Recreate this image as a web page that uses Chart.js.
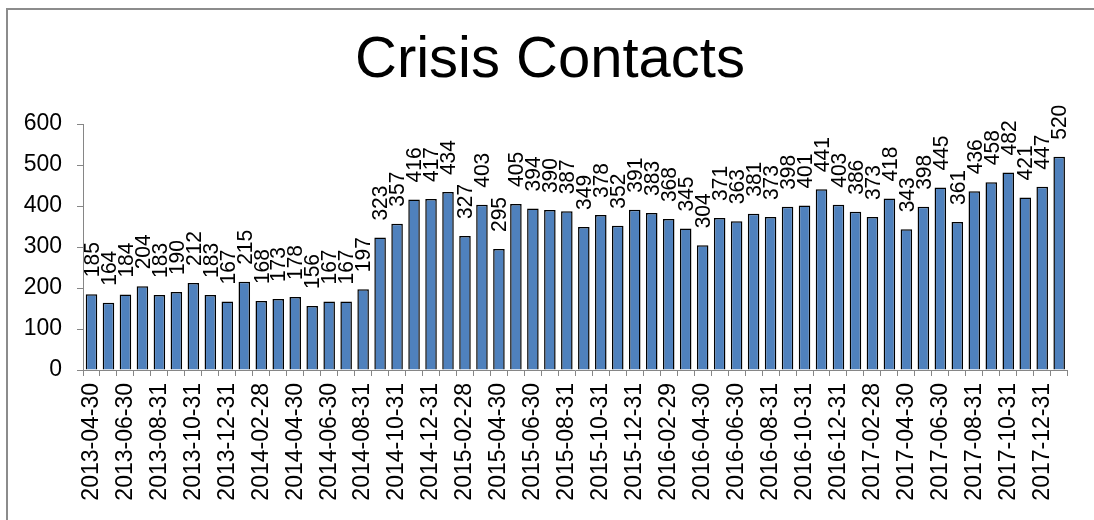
<!DOCTYPE html>
<html>
<head>
<meta charset="utf-8">
<script src="https://cdn.jsdelivr.net/npm/chart.js@4/dist/chart.umd.min.js"></script>
<style>
  html, body { margin: 0; padding: 0; background: #ffffff; }
  #wrap { position: relative; width: 1094px; height: 520px; overflow: hidden; }
  #frame { position: absolute; left: 6px; top: 8px; right: -10px; bottom: -10px;
           border-left: 2px solid #8c8c8c; border-top: 2px solid #8c8c8c; }
  #c { position: absolute; left: 0; top: 0; }
</style>
</head>
<body>
<div id="wrap">
  <div id="frame"></div>
  <canvas id="c" width="1094" height="520"></canvas>
</div>
<script>
// Month-end dates, April 2013 through January 2018
const months = [
  "2013-04-30","2013-05-31","2013-06-30","2013-07-31","2013-08-31","2013-09-30",
  "2013-10-31","2013-11-30","2013-12-31","2014-01-31","2014-02-28","2014-03-31",
  "2014-04-30","2014-05-31","2014-06-30","2014-07-31","2014-08-31","2014-09-30",
  "2014-10-31","2014-11-30","2014-12-31","2015-01-31","2015-02-28","2015-03-31",
  "2015-04-30","2015-05-31","2015-06-30","2015-07-31","2015-08-31","2015-09-30",
  "2015-10-31","2015-11-30","2015-12-31","2016-01-31","2016-02-29","2016-03-31",
  "2016-04-30","2016-05-31","2016-06-30","2016-07-31","2016-08-31","2016-09-30",
  "2016-10-31","2016-11-30","2016-12-31","2017-01-31","2017-02-28","2017-03-31",
  "2017-04-30","2017-05-31","2017-06-30","2017-07-31","2017-08-31","2017-09-30",
  "2017-10-31","2017-11-30","2017-12-31","2018-01-31"
];

// Crisis contacts per month
const contacts = [
  185,164,184,204,183,190,212,183,167,215,168,173,
  178,156,167,167,197,323,357,416,417,434,327,403,
  295,405,394,390,387,349,378,352,391,383,368,345,
  304,371,363,381,373,398,401,441,403,386,373,418,
  343,398,445,361,436,458,482,421,447,520
];

// Value axis ticks
const yTicks = [0, 100, 200, 300, 400, 500, 600];

const chartTitle = 'Crisis Contacts';

const FONT = "'Liberation Sans', Arial, sans-serif";

// Large centred heading above the plot
const headingText = {
  id: 'headingText',
  afterDraw(chart) {
    const ctx = chart.ctx;
    ctx.save();
    ctx.font = "58px " + FONT;
    ctx.fillStyle = "#000000";
    ctx.textAlign = "center";
    ctx.textBaseline = "alphabetic";
    ctx.fillText(chartTitle, 550, 77);
    ctx.restore();
  }
};

// Rotated value labels above each bar
const barValueLabels = {
  id: 'barValueLabels',
  afterDatasetsDraw(chart) {
    const ctx = chart.ctx;
    const meta = chart.getDatasetMeta(0);
    ctx.save();
    ctx.font = "21px " + FONT;
    ctx.fillStyle = "#000000";
    ctx.textAlign = "left";
    ctx.textBaseline = "middle";
    meta.data.forEach((bar, i) => {
      ctx.save();
      ctx.translate(bar.x + 1, bar.y - 17);
      ctx.rotate(-Math.PI / 2);
      ctx.scale(1, 1.08);
      ctx.fillText(String(contacts[i]), 0, 0);
      ctx.restore();
    });
    ctx.restore();
  }
};

new Chart(document.getElementById('c'), {
  type: 'bar',
  data: {
    labels: months,
    datasets: [{
      data: contacts,
      backgroundColor: '#4f81bd',
      borderColor: '#000000',
      borderWidth: 1.5,
      categoryPercentage: 1.0,
      barPercentage: 0.68
    }]
  },
  options: {
    responsive: false,
    animation: false,
    layout: { padding: { left: 0, right: 26, top: 124, bottom: 0 } },
    plugins: {
      legend: { display: false },
      tooltip: { enabled: false },
      title: { display: false }
    },
    scales: {
      x: {
        offset: true,
        border: { display: true, color: '#868686', width: 1 },
        grid: {
          display: true,
          offset: true,
          drawOnChartArea: false,
          drawTicks: true,
          tickLength: 6,
          color: '#868686'
        },
        ticks: {
          autoSkip: false,
          maxRotation: 90,
          minRotation: 90,
          padding: 7,
          color: '#000000',
          font: { family: FONT, size: 23 },
          callback: function (value, index) {
            return index % 2 === 0 ? months[index] : '';
          }
        },
        afterFit(scale) { scale.height = 150; }
      },
      y: {
        min: 0,
        max: 600,
        border: { display: true, color: '#868686', width: 1 },
        grid: {
          display: true,
          drawOnChartArea: false,
          drawTicks: true,
          tickLength: 6,
          color: '#868686'
        },
        afterBuildTicks(scale) {
          scale.ticks = yTicks.map(v => ({ value: v }));
        },
        ticks: {
          padding: 15,
          color: '#000000',
          font: { family: FONT, size: 23 }
        },
        afterFit(scale) { scale.width = 83; }
      }
    }
  },
  plugins: [barValueLabels, headingText]
});
</script>
</body>
</html>
